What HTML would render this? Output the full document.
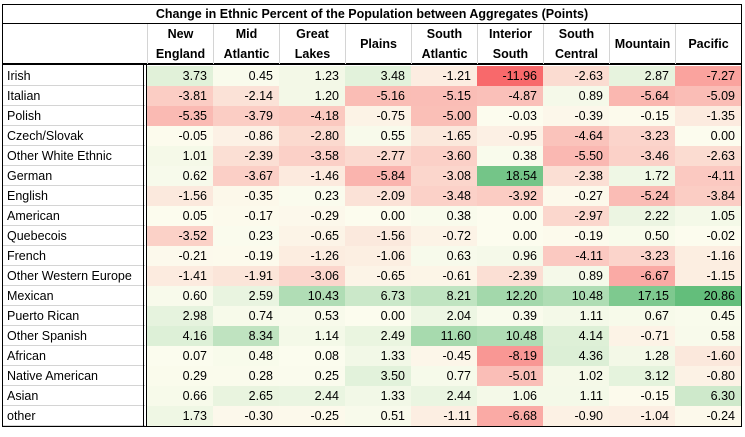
<!DOCTYPE html>
<html><head><meta charset="utf-8">
<style>
body{margin:0;background:#fff;width:745px;height:437px;overflow:hidden;font-family:"Liberation Sans",sans-serif;}
#t{position:absolute;left:0;top:0;width:745px;height:437px;}
.c{position:absolute;box-sizing:border-box;font-size:12.5px;color:#000;white-space:nowrap;}
.h{font-weight:bold;text-align:center;display:flex;align-items:center;justify-content:center;line-height:20px;}
.v{text-align:right;padding-right:6px;line-height:20px;}
.l{padding-left:4px;line-height:20px;border-bottom:1px solid #d4d4d4;}
</style></head><body>
<div id="t"></div>
<script>
const regions=["New England","Mid Atlantic","Great Lakes","Plains","South Atlantic","Interior South","South Central","Mountain","Pacific"];
const groups=["Irish","Italian","Polish","Czech/Slovak","Other White Ethnic","German","English","American","Quebecois","French","Other Western Europe","Mexican","Puerto Rican","Other Spanish","African","Native American","Asian","other"];
const irish=[3.73,0.45,1.23,3.48,-1.21,-11.96,-2.63,2.87,-7.27];
const italian=[-3.81,-2.14,1.20,-5.16,-5.15,-4.87,0.89,-5.64,-5.09];
const polish=[-5.35,-3.79,-4.18,-0.75,-5.00,-0.03,-0.39,-0.15,-1.35];
const czech=[-0.05,-0.86,-2.80,0.55,-1.65,-0.95,-4.64,-3.23,0.00];
const otherWhite=[1.01,-2.39,-3.58,-2.77,-3.60,0.38,-5.50,-3.46,-2.63];
const german=[0.62,-3.67,-1.46,-5.84,-3.08,18.54,-2.38,1.72,-4.11];
const english=[-1.56,-0.35,0.23,-2.09,-3.48,-3.92,-0.27,-5.24,-3.84];
const american=[0.05,-0.17,-0.29,0.00,0.38,0.00,-2.97,2.22,1.05];
const quebecois=[-3.52,0.23,-0.65,-1.56,-0.72,0.00,-0.19,0.50,-0.02];
const french=[-0.21,-0.19,-1.26,-1.06,0.63,0.96,-4.11,-3.23,-1.16];
const otherWestern=[-1.41,-1.91,-3.06,-0.65,-0.61,-2.39,0.89,-6.67,-1.15];
const mexican=[0.60,2.59,10.43,6.73,8.21,12.20,10.48,17.15,20.86];
const puertoRican=[2.98,0.74,0.53,0.00,2.04,0.39,1.11,0.67,0.45];
const otherSpanish=[4.16,8.34,1.14,2.49,11.60,10.48,4.14,-0.71,0.58];
const african=[0.07,0.48,0.08,1.33,-0.45,-8.19,4.36,1.28,-1.60];
const nativeAmerican=[0.29,0.28,0.25,3.50,0.77,-5.01,1.02,3.12,-0.80];
const asian=[0.66,2.65,2.44,1.33,2.44,1.06,1.11,-0.15,6.30];
const other=[1.73,-0.30,-0.25,0.51,-1.11,-6.68,-0.90,-1.04,-0.24];
const values=[irish,italian,polish,czech,otherWhite,german,english,american,quebecois,french,otherWestern,mexican,puertoRican,otherSpanish,african,nativeAmerican,asian,other];

const T=document.getElementById('t');
const X0=147,CW=66,Y0=66,RH=20;
function mk(cls,x,y,w,h,txt){const d=document.createElement('div');d.className='c '+cls;d.style.left=x+'px';d.style.top=y+'px';d.style.width=w+'px';d.style.height=h+'px';if(txt!=null)d.innerHTML=txt;T.appendChild(d);return d;}
const all=values.flat();const mn=Math.min(...all),mx=Math.max(...all);
function col(v){const mid=[252,252,238];let e,f;if(v<0){e=[248,105,107];f=v/mn;}else{e=[99,190,123];f=v/mx;}
 return 'rgb('+mid.map((m,i)=>Math.round(m+(e[i]-m)*f)).join(',')+')';}
// frame
const fr=mk('',2,4,740,423);fr.style.border='1.5px solid #000';


const ti=mk('h',2,4,740,20,'Change in Ethnic Percent of the Population between Aggregates (Points)');
ti.style.borderBottom='1px solid #000';


const hb=mk('',2,24,740,41);hb.style.borderBottom='2px solid #000';


regions.forEach((r,i)=>{const parts=r.split(' ');
 const h=mk('h',X0+i*CW,24,CW,40,parts.join('<br>'));h.style.borderLeft='1px solid #d4d4d4';
 
 });
groups.forEach((g,j)=>{
 const l=mk('l',3,Y0+j*RH,142,RH,g);
 
 
 values[j].forEach((v,i)=>{const c=mk('v',X0+i*CW,Y0+j*RH,CW,RH,v.toFixed(2));c.style.background=col(v);
  
  });
});
const dl=mk('',143,64,4,363);dl.style.borderLeft='1px solid #000';dl.style.borderRight='1px solid #000';


</script>
</body></html>
